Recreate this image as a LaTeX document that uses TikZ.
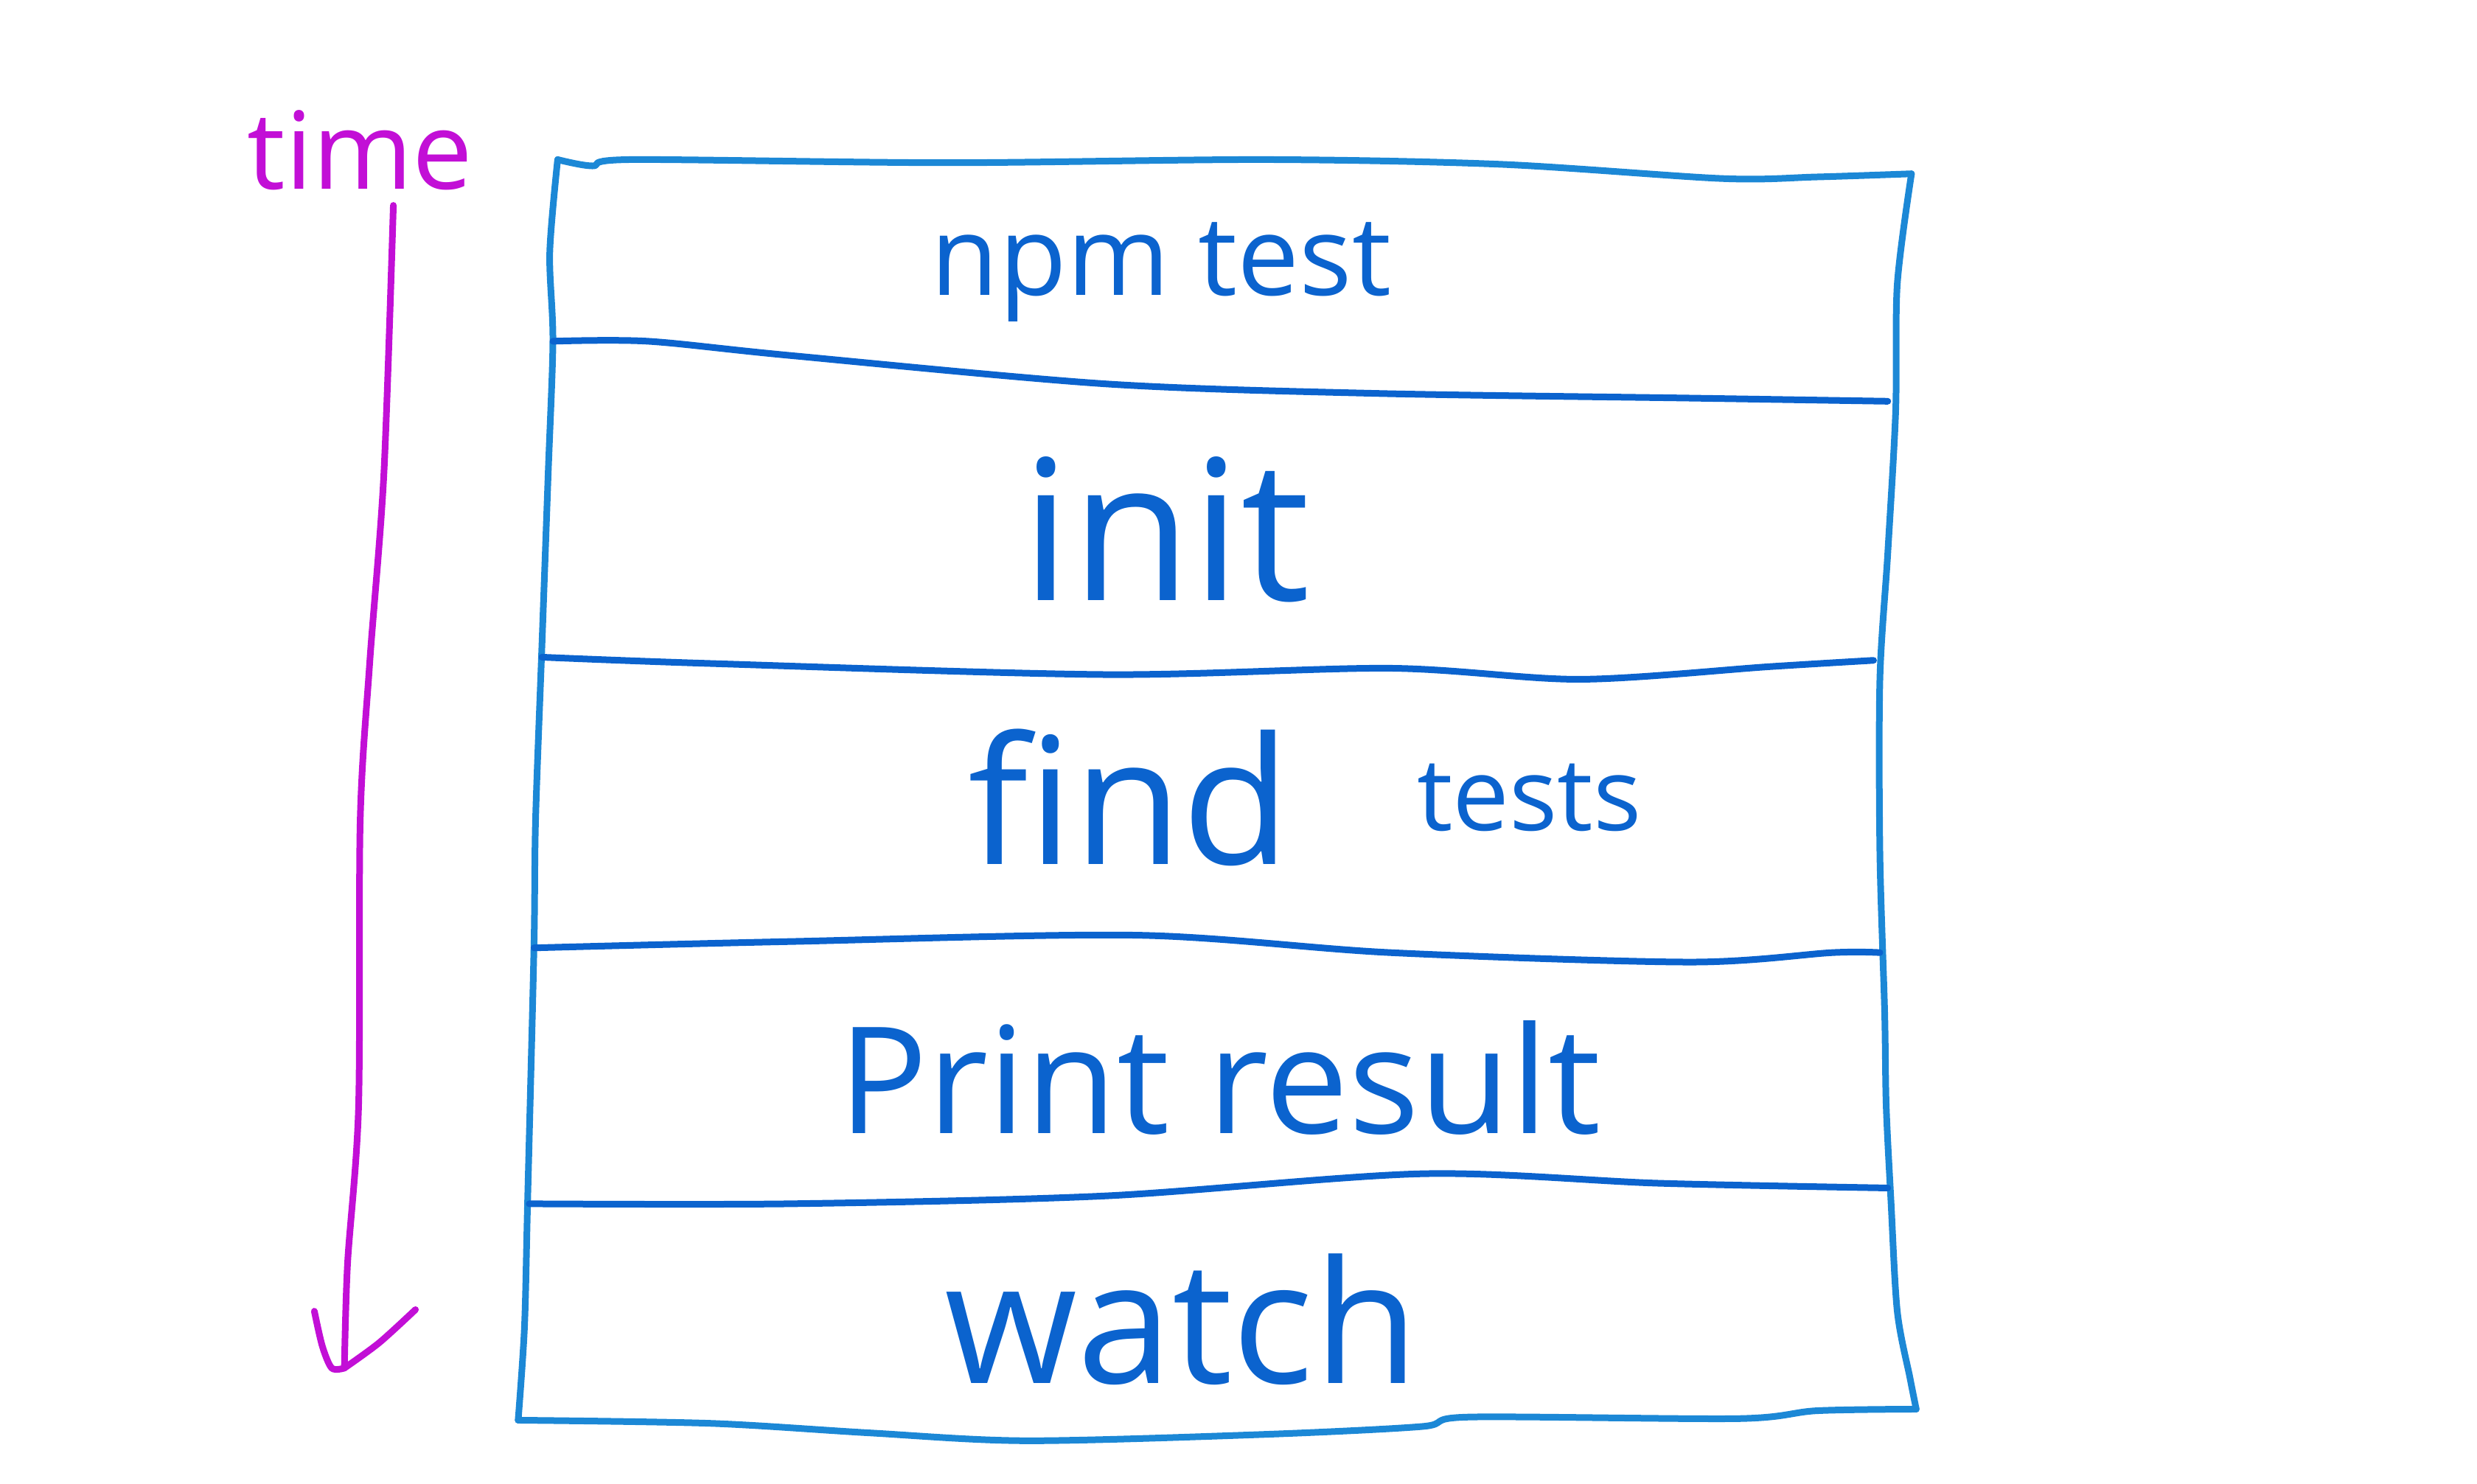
\documentclass[tikz,border=0pt]{standalone}
\usepackage{fontspec}
\setmainfont{Open Sans}
\definecolor{boxblue}{HTML}{1C88D6}
\definecolor{inkblue}{HTML}{0B63CE}
\definecolor{timemag}{HTML}{C20FD6}
\begin{document}
\begin{tikzpicture}[x=0.5pt,y=-0.5pt,
  outline/.style={draw=boxblue,line width=2.1pt,line cap=round,line join=round},
  divider/.style={draw=inkblue,line width=2.1pt,line cap=round},
  label/.style={text=inkblue,inner sep=0pt,anchor=center},
  timeink/.style={draw=timemag,line width=2.1pt,line cap=round,line join=round}]
\useasboundingbox (0,0) rectangle (1568,939);
% outer box
\draw[outline] plot[smooth] coordinates {(353,101) (375,105) (400,101) (600,103) (800,101) (950,104) (1090,113) (1150,112) (1210,110)};
\draw[outline] plot[smooth] coordinates {(1210,110) (1201,180) (1200,260) (1195,350) (1190,430) (1190,540) (1193,640) (1194,700) (1197,760) (1201,830) (1209,872) (1213,892)};
\draw[outline] plot[smooth] coordinates {(1213,892) (1150,893) (1100,898) (930,897) (900,903) (800,908) (650,912) (550,907) (450,901) (328,899)};
\draw[outline] plot[smooth] coordinates {(328,899) (332,840) (334,760) (338,600) (339,520) (343,410) (347,300) (350,216) (348,160) (353,101)};
% dividers
\draw[divider] plot[smooth] coordinates {(350,216) (410,216) (500,225) (700,243) (870,249) (1070,252) (1195,254)};
\draw[divider] plot[smooth] coordinates {(343,416) (450,420) (700,427) (880,423) (1000,430) (1120,422) (1186,418)};
\draw[divider] plot[smooth] coordinates {(338,600) (500,596) (720,592) (880,603) (1070,609) (1160,603) (1190,603)};
\draw[divider] plot[smooth] coordinates {(335,762) (500,762) (700,757) (900,743) (1050,749) (1195,752)};
% labels
\node[label,font=\fontsize{35}{40}\selectfont] (npm) at (735,172) {npm test};
\node[label,font=\fontsize{62}{70}\selectfont] (init) at (738,335) {init};
\node[label,font=\fontsize{56}{64}\selectfont] (find) at (715,505) {find};
\node[label,font=\fontsize{32}{36}\selectfont] (tests) at (968,505) {tests};
\node[label,font=\fontsize{47}{54}\selectfont] (print) at (772,682) {Print result};
\node[label,font=\fontsize{54}{60}\selectfont] (watch) at (748,835) {watch};
% time
\node[text=timemag,inner sep=0pt,font=\fontsize{34}{40}\selectfont] (time) at (228,95) {time};
\coordinate (tstart) at (249,130);
\coordinate (tend) at (218,866);
\draw[timeink] (tstart) plot[smooth] coordinates {(249,130) (243,300) (234,420) (228,520) (227,700) (220,800) (218,866)};
\draw[timeink] plot[smooth] coordinates {(199,830) (204,852) (210,866) (218,866)};
\draw[timeink] plot[smooth] coordinates {(218,866) (240,850) (263,829)};
\end{tikzpicture}
\end{document}
